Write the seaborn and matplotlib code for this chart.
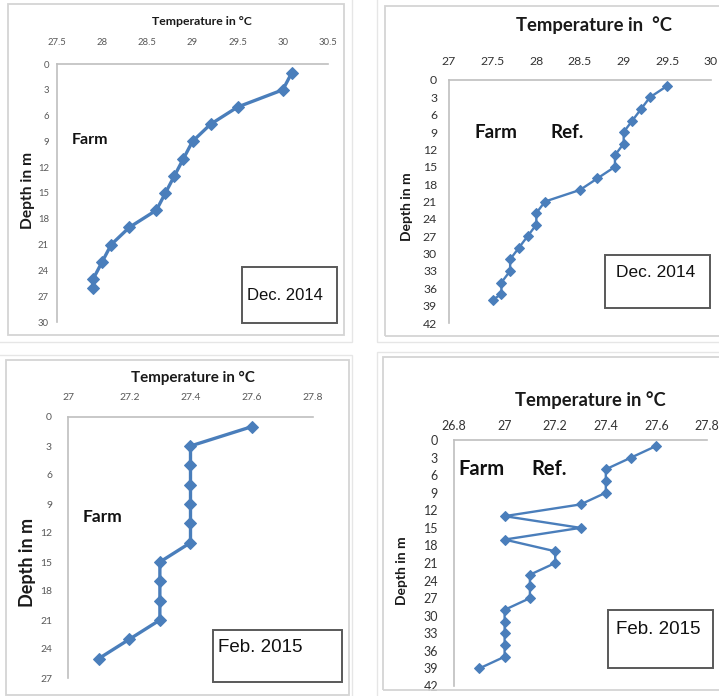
import matplotlib
matplotlib.use("Agg")
import matplotlib.pyplot as plt
from matplotlib.patches import Rectangle
import seaborn as sns
import pandas as pd

sns.set_theme(style="white")
plt.rcParams["font.family"] = ["Lato", "DejaVu Sans"]

# ---------------- data ----------------
# Dec. 2014, Farm
dec_farm_depth = [1, 3, 5, 7, 9, 11, 13, 15, 17, 19, 21, 23, 25, 26]
dec_farm_temp = [30.1, 30.0, 29.5, 29.2, 29.0, 28.9, 28.8, 28.7, 28.6, 28.3, 28.1, 28.0, 27.9, 27.9]
# Dec. 2014, Ref.
dec_ref_depth = [1, 3, 5, 7, 9, 11, 13, 15, 17, 19, 21, 23, 25, 27, 29, 31, 33, 35, 37, 38]
dec_ref_temp = [29.5, 29.3, 29.2, 29.1, 29.0, 29.0, 28.9, 28.9, 28.7, 28.5, 28.1, 28.0, 28.0,
                27.9, 27.8, 27.7, 27.7, 27.6, 27.6, 27.5]
# Feb. 2015, Farm
feb_farm_depth = [1, 3, 5, 7, 9, 11, 13, 15, 17, 19, 21, 23, 25]
feb_farm_temp = [27.6, 27.4, 27.4, 27.4, 27.4, 27.4, 27.4, 27.3, 27.3, 27.3, 27.3, 27.2, 27.1]
# Feb. 2015, Ref.
feb_ref_depth = [1, 3, 5, 7, 9, 11, 13, 15, 17, 19, 21, 23, 25, 27, 29, 31, 33, 35, 37, 39]
feb_ref_temp = [27.6, 27.5, 27.4, 27.4, 27.4, 27.3, 27.0, 27.3, 27.0, 27.2, 27.2, 27.1, 27.1,
                27.1, 27.0, 27.0, 27.0, 27.0, 27.0, 26.9]

# tick labels
x_ticks_1 = ["27.5", "28", "28.5", "29", "29.5", "30", "30.5"]
x_ticks_2 = ["27", "27.5", "28", "28.5", "29", "29.5", "30"]
x_ticks_3 = ["27", "27.2", "27.4", "27.6", "27.8"]
x_ticks_4 = ["26.8", "27", "27.2", "27.4", "27.6", "27.8"]
y_ticks_30 = ["0", "3", "6", "9", "12", "15", "18", "21", "24", "27", "30"]
y_ticks_42 = ["0", "3", "6", "9", "12", "15", "18", "21", "24", "27", "30", "33", "36", "39", "42"]
y_ticks_27 = ["0", "3", "6", "9", "12", "15", "18", "21", "24", "27"]

x_title = "Temperature in \u00b0C"
x_title_b = "Temperature in  \u00b0C"
y_title = "Depth in m"

# ---------------- layout ----------------
W, H = 719, 696
fig = plt.figure(figsize=(W / 100, H / 100), dpi=100)
fig.patch.set_facecolor("white")

LINE = "#4a7ebb"
FRAME = "#d4d4d4"
SPINE = "#bfbfbf"

FAM = ["Lato", "DejaVu Sans"]
ARIAL = ["Liberation Sans", "DejaVu Sans"]


def fx(x):
    return x / W


def fy(y):
    return 1 - y / H


def frame(x0, y0, x1, y1, color=FRAME, lw=1.3):
    fig.patches.append(Rectangle((fx(x0), fy(y1)), fx(x1) - fx(x0), fy(y0) - fy(y1),
                                 transform=fig.transFigure, fill=False,
                                 edgecolor=color, linewidth=lw, zorder=0))


def ftext(x, y, s, **kw):
    fig.text(fx(x), fy(y), s, **kw)


def make_panel(rect, depth, temp, xticks, yticks, tickcol, tsize, title_size,
               ylab_size, xlabel_xy, ylabel_xy, xpad, ypad, lw, ms, title_text):
    x0, y0, x1, y1 = rect
    ax = fig.add_axes([fx(x0), fy(y1), fx(x1) - fx(x0), fy(y0) - fy(y1)])
    df = pd.DataFrame({"Temperature": temp, "Depth": depth})
    sns.lineplot(data=df, x="Temperature", y="Depth", orient="y", sort=False, estimator=None,
                 color=LINE, linewidth=lw, marker="D", markersize=ms,
                 markeredgecolor=LINE, markerfacecolor=LINE, ax=ax, clip_on=False)
    xv = [float(t) for t in xticks]
    yv = [float(t) for t in yticks]
    ax.set_xlim(xv[0], xv[-1])
    ax.set_ylim(yv[-1], yv[0])
    ax.set_xticks(xv)
    ax.set_xticklabels(xticks)
    ax.set_yticks(yv)
    ax.set_yticklabels(yticks)
    ax.xaxis.tick_top()
    ax.xaxis.set_label_position("top")
    ax.tick_params(axis="x", length=0, pad=xpad, labelsize=tsize, labelcolor=tickcol)
    ax.tick_params(axis="y", length=0, pad=ypad, labelsize=tsize, labelcolor=tickcol)
    for side in ["right", "bottom"]:
        ax.spines[side].set_visible(False)
    for side in ["top", "left"]:
        ax.spines[side].set_color(SPINE)
        ax.spines[side].set_linewidth(1.2)
    ax.set_xlabel(title_text, fontsize=title_size, fontweight="bold", family=FAM,
                  color="#1a1a1a", va="center", ha="center")
    ax.xaxis.set_label_coords(*xlabel_xy)
    ax.set_ylabel(y_title, fontsize=ylab_size, fontweight="bold", family=FAM,
                  color="#1a1a1a", va="center", ha="center", rotation=90)
    ax.yaxis.set_label_coords(*ylabel_xy)
    ax.grid(False)
    ax.set_facecolor("none")
    return ax


# panel frames
frame(8, 4, 344, 335)
frame(385, 6, 722, 336)
frame(6, 360, 349, 695)
frame(383, 357, 722, 690)
# faint outer separators
frame(-2, -2, 352, 342, color="#e6e6e6", lw=1.0)
frame(377, -2, 722, 342, color="#e6e6e6", lw=1.0)
frame(-2, 355, 352, 700, color="#e6e6e6", lw=1.0)
frame(377, 352, 722, 700, color="#e6e6e6", lw=1.0)

# Panel 1: Dec 2014 Farm
make_panel((57, 64, 328, 322), dec_farm_depth, dec_farm_temp, x_ticks_1, y_ticks_30,
           "#595959", 6.8, 8.8, 11.2, (0.535, 1.163), (-0.107, 0.508),
           12.5, 5.8, 2.4, 6, x_title)
# Panel 2: Dec 2014 Ref
make_panel((449, 80, 711, 323), dec_ref_depth, dec_ref_temp, x_ticks_2, y_ticks_42,
           "#333333", 8.8, 13.3, 10, (0.553, 1.226), (-0.16, 0.477),
           9.7, 8.6, 1.7, 5, x_title_b)
# Panel 3: Feb 2015 Farm
make_panel((68, 417, 313, 678), feb_farm_depth, feb_farm_temp, x_ticks_3, y_ticks_27,
           "#595959", 7.5, 10.9, 13, (0.51, 1.149), (-0.167, 0.444),
           11, 11.5, 2.4, 6, x_title)
# Panel 4: Feb 2015 Ref
make_panel((454, 440, 707, 686), feb_ref_depth, feb_ref_temp, x_ticks_4, y_ticks_42,
           "#333333", 9, 13.2, 10, (0.538, 1.163), (-0.206, 0.467),
           6, 11.5, 1.7, 5, x_title)

# station labels
ftext(72, 140, "Farm", fontsize=11.5, fontweight="bold", family=FAM, color="#111111", va="center", ha="left")
ftext(475, 132, "Farm", fontsize=13.5, fontweight="bold", family=FAM, color="#111111", va="center")
ftext(550, 132, "Ref.", fontsize=13.5, fontweight="bold", family=FAM, color="#111111", va="center")
ftext(83, 517, "Farm", fontsize=12.5, fontweight="bold", family=FAM, color="#111111", va="center", ha="left")
ftext(458, 469, "Farm", fontsize=14.5, fontweight="bold", family=FAM, color="#111111", va="center")
ftext(531, 469, "Ref.", fontsize=14.5, fontweight="bold", family=FAM, color="#111111", va="center")

# date boxes
frame(242, 267, 337, 323, color="#595959", lw=1.4)
ftext(285, 295, "Dec. 2014", fontsize=12, family=ARIAL, color="#111111", va="center", ha="center")
frame(605, 255, 710, 308, color="#595959", lw=1.4)
ftext(656, 273, "Dec. 2014", fontsize=12.5, family=ARIAL, color="#111111", va="center", ha="center")
frame(213, 630, 342, 682, color="#595959", lw=1.4)
ftext(218, 647, "Feb. 2015", fontsize=13.5, family=ARIAL, color="#111111", va="center", ha="left")
frame(608, 610, 713, 668, color="#595959", lw=1.4)
ftext(658, 630, "Feb. 2015", fontsize=13.5, family=ARIAL, color="#111111", va="center", ha="center")

fig.savefig("out.png", dpi=100, facecolor="white")
